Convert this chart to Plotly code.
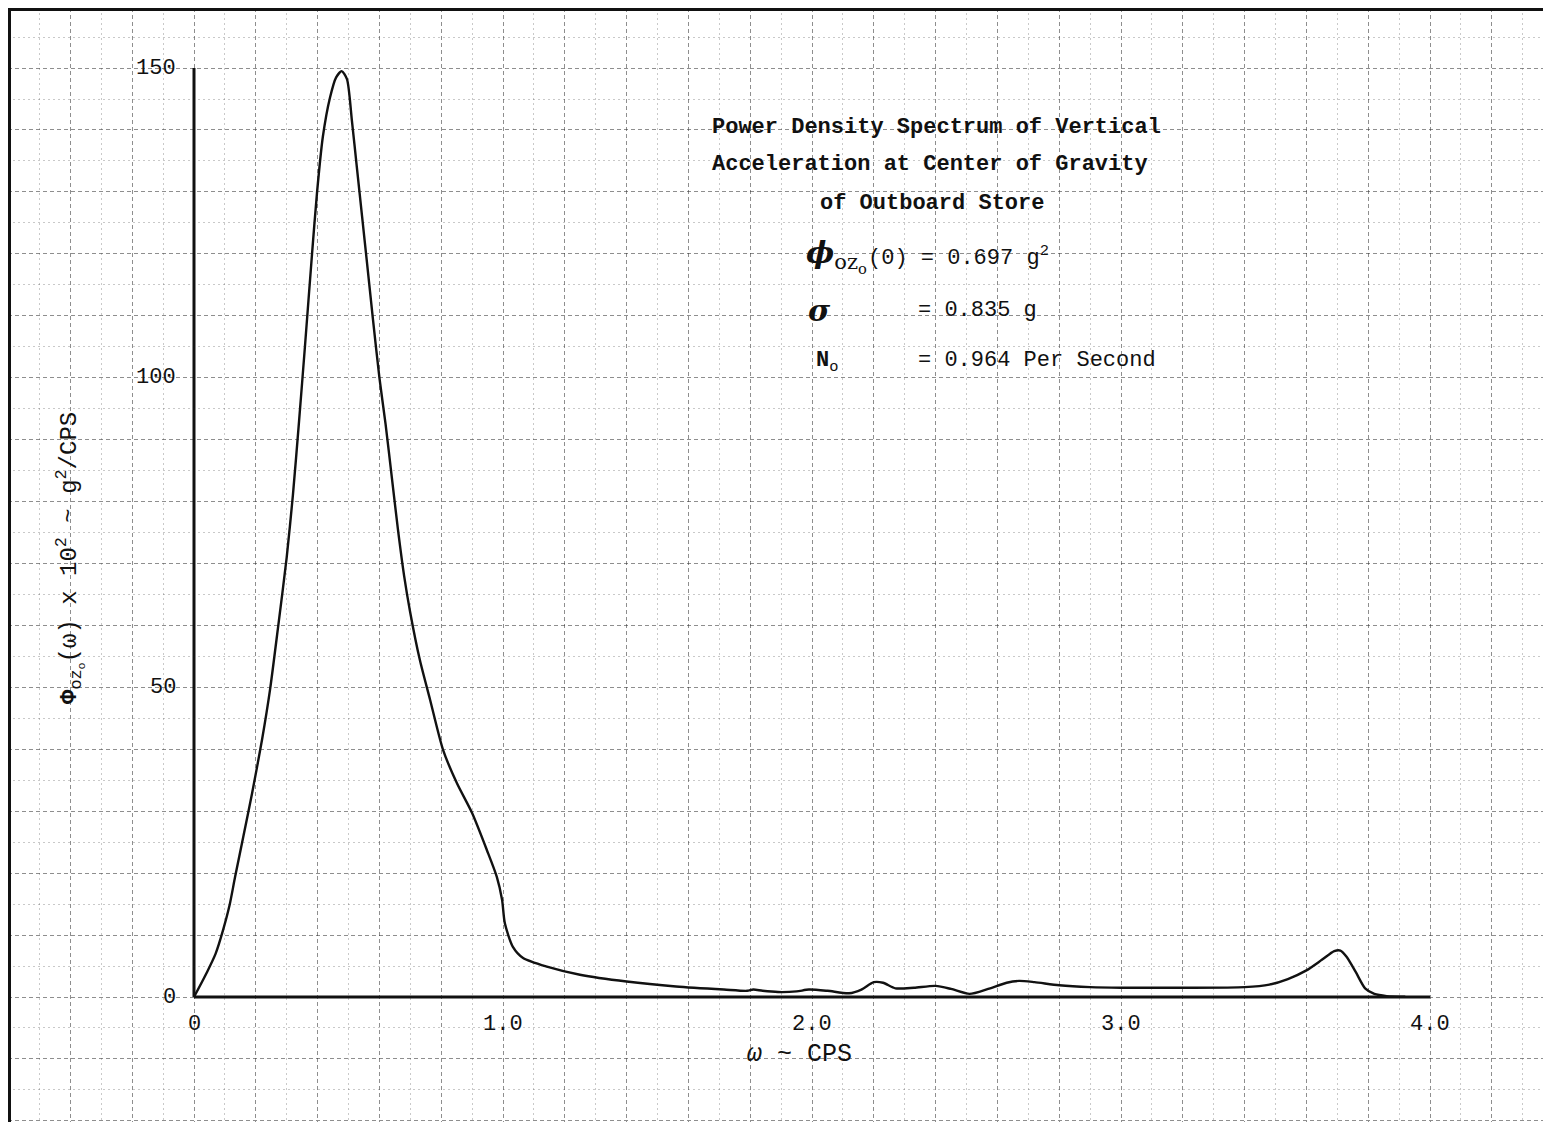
import plotly.graph_objects as go

# ---------------- data ----------------
freq_cps = [0, 0.042, 0.07, 0.094, 0.115, 0.133, 0.16, 0.188, 0.22, 0.246, 0.272, 0.30, 0.32,
            0.34, 0.359, 0.382, 0.398, 0.417, 0.44, 0.46, 0.478, 0.495, 0.511, 0.527,
            0.544, 0.56, 0.579, 0.60, 0.62, 0.64, 0.66, 0.68, 0.699, 0.731, 0.764,
            0.806, 0.851, 0.90, 0.948, 0.98, 0.997, 1.006, 1.032, 1.065, 1.142, 1.249,
            1.40, 1.56, 1.715, 1.79, 1.81, 1.84, 1.89, 1.95, 1.99, 2.05, 2.12, 2.16,
            2.20, 2.23, 2.27, 2.33, 2.40, 2.45, 2.51, 2.57, 2.63, 2.67, 2.72, 2.80,
            2.90, 3.00, 3.20, 3.40, 3.48, 3.54, 3.60, 3.65, 3.69, 3.71, 3.73, 3.76,
            3.79, 3.82, 3.86, 3.92]
psd_x100 = [0, 4.0, 7.0, 10.8, 14.8, 19.4, 26, 32.9, 41.5, 49.6, 59.7, 71, 81,
            93, 105, 120, 129.8, 138.9, 145.2, 148.5, 149.5, 148.2, 141.5, 134,
            126, 118.5, 109.5, 100, 92.5, 84, 75.5, 68, 62.3, 54.4, 48,
            39.9, 34.5, 29.7, 23.7, 19.4, 15.7, 11.9, 8.1, 6.3, 4.9, 3.6,
            2.5, 1.7, 1.2, 1.0, 1.2, 1.0, 0.8, 0.9, 1.2, 1.0, 0.6, 1.2,
            2.4, 2.3, 1.4, 1.5, 1.8, 1.3, 0.5, 1.3, 2.3, 2.6, 2.4, 1.9,
            1.6, 1.5, 1.5, 1.6, 2.0, 2.9, 4.3, 6.0, 7.4, 7.5, 6.5, 4.0,
            1.4, 0.5, 0.15, 0.05]

x_tick_vals = [0, 1, 2, 3, 4]
x_tick_text = ["0", "1.0", "2.0", "3.0", "4.0"]
y_tick_vals = [0, 50, 100, 150]
y_tick_text = ["0", "50", "100", "150"]

title_lines = ["Power Density Spectrum of Vertical",
               "Acceleration at Center of Gravity",
               "of Outboard Store"]

# ---------------- page geometry ----------------
W, H = 1551, 1122
OFF = 8                              # page body margin of the html page
X0_PX, X_PER_UNIT = 194 - OFF, 309.0  # figure pixel of x=0, pixels per CPS
Y0_PX, Y_PER_UNIT = 997 - OFF, 6.193  # figure pixel of y=0, pixels per unit
x_range = [-X0_PX / X_PER_UNIT, (W - X0_PX) / X_PER_UNIT]
y_range = [-(H - Y0_PX) / Y_PER_UNIT, Y0_PX / Y_PER_UNIT]

def px(x):
    return (x - OFF) / W

def py(y):
    return 1 - (y - OFF) / H

MONO = "Liberation Mono, Courier New, monospace"
INK = "#111111"

fig = go.Figure()

fig.add_trace(go.Scatter(
    x=freq_cps, y=psd_x100, mode="lines",
    line=dict(color=INK, width=2.4, shape="spline", smoothing=0.7),
    hoverinfo="skip", showlegend=False))

# axis lines of the drawn chart
fig.add_shape(type="line", x0=x_tick_vals[0], x1=x_tick_vals[-1], y0=0, y1=0,
              xref="x", yref="y", line=dict(color=INK, width=3), layer="above")
fig.add_shape(type="line", x0=0, x1=0, y0=y_tick_vals[0], y1=y_tick_vals[-1],
              xref="x", yref="y", line=dict(color=INK, width=3), layer="above")

# page borders (left and top edge of the sheet)
fig.add_shape(type="line", x0=1.5 / W, x1=1.5 / W, y0=0, y1=1, xref="paper", yref="paper",
              line=dict(color=INK, width=3))
fig.add_shape(type="line", x0=0, x1=1, y0=1 - 1.5 / H, y1=1 - 1.5 / H, xref="paper",
              yref="paper", line=dict(color=INK, width=3))

ann = []
for v, t in zip(x_tick_vals, x_tick_text):
    ann.append(dict(x=v, y=0, xref="x", yref="y", text=t, showarrow=False,
                    yshift=-27, xanchor="center", yanchor="middle",
                    font=dict(family=MONO, size=22, color=INK)))
for v, t in zip(y_tick_vals, y_tick_text):
    ann.append(dict(x=0, y=v, xref="x", yref="y", text=t, showarrow=False,
                    xshift=-16, xanchor="right", yanchor="middle",
                    font=dict(family=MONO, size=22, color=INK)))

# title block
title_pos = [(710, 127), (710, 165), (818, 203)]
for t, (xx, yy) in zip(title_lines, title_pos):
    ann.append(dict(x=px(xx), y=py(yy), xref="paper", yref="paper",
                    text="<b>" + t + "</b>",
                    showarrow=False, xanchor="left", yanchor="middle",
                    font=dict(family=MONO, size=22, color=INK)))

# statistics block
stat_font = dict(family=MONO, size=22, color=INK)
ann += [
    dict(x=px(804), y=py(256), xref="paper", yref="paper",
         text="<b><i>ϕ</i></b><sub>oz<sub>o</sub></sub>", showarrow=False,
         xanchor="left", yanchor="middle",
         font=dict(family="DejaVu Serif", size=30, color=INK)),
    dict(x=px(866), y=py(256), xref="paper", yref="paper",
         text="(0) = 0.697 g<sup>2</sup>", showarrow=False,
         xanchor="left", yanchor="middle", font=stat_font),
    dict(x=px(806), y=py(310), xref="paper", yref="paper",
         text="<b><i>σ</i></b>", showarrow=False, xanchor="left", yanchor="middle",
         font=dict(family="DejaVu Serif", size=30, color=INK)),
    dict(x=px(916), y=py(310), xref="paper", yref="paper",
         text="= 0.835 g", showarrow=False, xanchor="left", yanchor="middle",
         font=stat_font),
    dict(x=px(814), y=py(362), xref="paper", yref="paper",
         text="<b>N</b><sub>o</sub>", showarrow=False, xanchor="left", yanchor="middle",
         font=stat_font),
    dict(x=px(916), y=py(360), xref="paper", yref="paper",
         text="= 0.964 Per Second", showarrow=False, xanchor="left",
         yanchor="middle", font=stat_font),
]

# axis titles
ann.append(dict(x=px(70), y=py(558), xref="paper", yref="paper",
                text="<b>Φ</b><sub>oz<sub>o</sub></sub>(ω) x 10<sup>2</sup> ~ g<sup>2</sup>/CPS",
                textangle=-90, showarrow=False, xanchor="center", yanchor="middle",
                font=dict(family=MONO, size=24, color=INK)))
ann.append(dict(x=px(800), y=py(1054), xref="paper", yref="paper",
                text="<i>ω</i> ~ CPS", showarrow=False, xanchor="center",
                yanchor="middle", font=dict(family=MONO, size=25, color=INK)))

grid_major = "rgba(50,50,50,0.55)"
grid_minor = "rgba(90,90,90,0.33)"

fig.update_layout(
    width=W, height=H,
    margin=dict(l=0, r=0, t=0, b=0, pad=0),
    paper_bgcolor="white", plot_bgcolor="white",
    showlegend=False,
    annotations=ann,
    xaxis=dict(range=x_range, showticklabels=False, ticks="", zeroline=False,
               showline=False, showgrid=True, tick0=0, dtick=0.2,
               gridcolor=grid_major, gridwidth=1.3, griddash="4px,3px",
               minor=dict(dtick=0.1, showgrid=True, gridcolor=grid_minor,
                          gridwidth=1, griddash="2px,3px"),
               fixedrange=True),
    yaxis=dict(range=y_range, showticklabels=False, ticks="", zeroline=False,
               showline=False, showgrid=True, tick0=0, dtick=10,
               gridcolor=grid_major, gridwidth=1.3, griddash="4px,3px",
               minor=dict(dtick=5, showgrid=True, gridcolor=grid_minor,
                          gridwidth=1, griddash="2px,3px"),
               fixedrange=True),
)

fig.write_html("out.html", config={"displayModeBar": False})
